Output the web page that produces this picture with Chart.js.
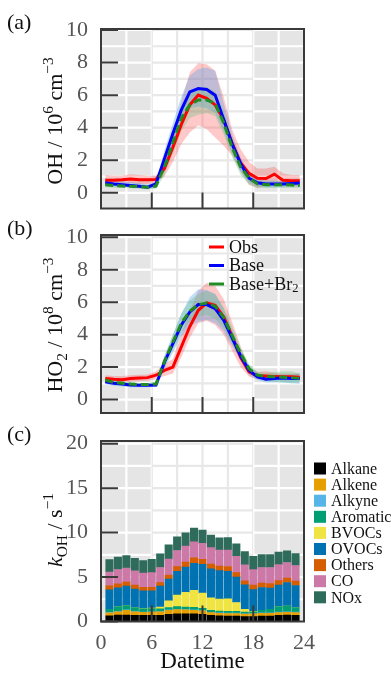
<!DOCTYPE html>
<html>
<head>
<meta charset="utf-8">
<script src="https://cdn.jsdelivr.net/npm/chart.js@4.4.1/dist/chart.umd.min.js"></script>
<style>
  html, body { margin: 0; padding: 0; background: #fff; }
  #wrap { position: relative; width: 391px; height: 673px; overflow: hidden; }
  #wrap canvas { position: absolute; left: 0; top: 0; }
</style>
</head>
<body>
<div id="wrap">
  <canvas id="chart-oh" width="391" height="673"></canvas>
  <canvas id="chart-ho2" width="391" height="673"></canvas>
  <canvas id="chart-koh" width="391" height="673"></canvas>
</div>
<script>
// Diurnal OH, HO2 and OH reactivity figure

const SERIF = "'Liberation Serif', 'Times New Roman', serif";

// hourly means, centred on the half hour
const hours = [0.5, 1.5, 2.5, 3.5, 4.5, 5.5, 6.5, 7.5, 8.5, 9.5, 10.5, 11.5,
               12.5, 13.5, 14.5, 15.5, 16.5, 17.5, 18.5, 19.5, 20.5, 21.5, 22.5, 23.5];

// (a) OH / 10^6 cm-3
const ohObs      = [0.78, 0.78, 0.80, 0.85, 0.80, 0.80, 0.82, 1.50, 2.80, 4.20, 5.40, 6.00, 5.80, 5.40, 4.50, 3.05, 1.85, 1.20, 0.90, 0.88, 1.15, 0.78, 0.75, 0.75];
const ohObsLow   = [0.50, 0.55, 0.55, 0.60, 0.55, 0.55, 0.60, 1.00, 1.90, 3.00, 3.70, 4.15, 3.90, 3.40, 2.90, 2.30, 1.30, 0.50, 0.30, 0.45, 0.55, 0.45, 0.40, 0.40];
const ohObsHigh  = [1.10, 1.05, 1.05, 1.15, 1.10, 1.05, 1.05, 1.90, 3.60, 5.60, 7.40, 7.95, 7.90, 7.50, 5.90, 3.90, 2.70, 1.90, 1.50, 1.50, 1.60, 1.20, 1.10, 1.10];
const ohBase     = [0.62, 0.55, 0.50, 0.45, 0.40, 0.35, 0.55, 2.10, 3.65, 5.10, 6.20, 6.40, 6.35, 6.00, 4.50, 3.00, 1.80, 0.90, 0.62, 0.55, 0.55, 0.55, 0.58, 0.60];
const ohBaseLow  = [0.45, 0.40, 0.38, 0.35, 0.30, 0.25, 0.30, 1.60, 3.00, 4.30, 5.20, 5.30, 5.20, 4.90, 3.80, 2.40, 1.30, 0.60, 0.40, 0.35, 0.35, 0.35, 0.40, 0.40];
const ohBaseHigh = [0.80, 0.75, 0.70, 0.65, 0.60, 0.50, 0.70, 2.60, 4.30, 5.90, 7.20, 7.60, 7.70, 7.50, 5.50, 3.60, 2.20, 1.20, 0.80, 0.75, 0.75, 0.75, 0.80, 0.85];
const ohBr2      = [0.50, 0.45, 0.42, 0.40, 0.38, 0.35, 0.42, 1.60, 3.10, 4.60, 5.40, 5.70, 5.70, 5.50, 4.30, 2.80, 1.60, 0.90, 0.55, 0.50, 0.50, 0.50, 0.48, 0.45];
const ohBr2Low   = [0.35, 0.30, 0.30, 0.28, 0.25, 0.22, 0.25, 1.10, 2.40, 3.80, 4.60, 4.80, 4.90, 4.70, 3.60, 2.20, 1.10, 0.50, 0.30, 0.30, 0.30, 0.30, 0.30, 0.30];
const ohBr2High  = [0.65, 0.60, 0.55, 0.55, 0.50, 0.45, 0.55, 2.00, 3.70, 5.20, 6.10, 6.50, 6.50, 6.20, 5.00, 3.40, 2.00, 1.10, 0.70, 0.70, 0.70, 0.70, 0.65, 0.65];

// (b) HO2 / 10^8 cm-3
const ho2Obs      = [1.30, 1.25, 1.22, 1.30, 1.32, 1.35, 1.50, 1.80, 2.00, 3.25, 4.50, 5.50, 5.95, 5.80, 5.10, 3.90, 2.60, 1.70, 1.45, 1.45, 1.42, 1.40, 1.40, 1.38];
const ho2ObsLow   = [1.15, 1.10, 1.05, 1.10, 1.12, 1.15, 1.25, 1.45, 1.60, 2.60, 3.80, 4.70, 4.85, 4.60, 4.00, 3.00, 2.00, 1.40, 1.25, 1.30, 1.20, 1.20, 1.20, 1.20];
const ho2ObsHigh  = [1.50, 1.45, 1.45, 1.50, 1.52, 1.55, 1.75, 2.20, 2.50, 4.00, 5.50, 6.70, 7.20, 7.00, 6.20, 4.80, 3.30, 2.00, 1.70, 1.75, 1.65, 1.60, 1.60, 1.60];
const ho2Base     = [1.10, 1.00, 0.95, 0.90, 0.88, 0.88, 0.90, 2.30, 3.45, 4.60, 5.40, 5.85, 5.85, 5.60, 4.90, 3.80, 2.70, 1.80, 1.40, 1.25, 1.30, 1.32, 1.30, 1.30];
const ho2BaseLow  = [0.95, 0.85, 0.80, 0.75, 0.75, 0.75, 0.78, 1.90, 2.90, 3.90, 4.50, 4.80, 4.90, 4.70, 4.20, 3.30, 2.40, 1.50, 1.20, 1.05, 1.05, 1.05, 1.00, 0.95];
const ho2BaseHigh = [1.25, 1.15, 1.10, 1.05, 1.00, 1.00, 1.05, 2.70, 4.00, 5.30, 6.30, 6.80, 6.75, 6.50, 5.60, 4.30, 3.00, 2.10, 1.60, 1.45, 1.55, 1.55, 1.55, 1.60];
const ho2Br2      = [1.20, 1.05, 1.00, 0.95, 0.92, 0.92, 0.95, 2.35, 3.55, 4.70, 5.45, 5.85, 5.95, 5.75, 5.05, 3.95, 2.85, 1.90, 1.50, 1.42, 1.40, 1.38, 1.35, 1.30];
const ho2Br2Low   = [1.05, 0.92, 0.88, 0.85, 0.82, 0.82, 0.85, 2.00, 3.10, 4.10, 4.80, 5.10, 5.20, 5.00, 4.40, 3.40, 2.50, 1.60, 1.30, 1.15, 1.10, 1.05, 1.00, 1.05];
const ho2Br2High  = [1.35, 1.20, 1.12, 1.08, 1.02, 1.02, 1.10, 2.65, 4.00, 5.30, 6.10, 6.50, 6.70, 6.50, 5.70, 4.50, 3.20, 2.20, 1.70, 1.65, 1.70, 1.75, 1.75, 1.60];

// (c) kOH / s-1, stacked by species group
const kohHours = [1, 2, 3, 4, 5, 6, 7, 8, 9, 10, 11, 12, 13, 14, 15, 16, 17, 18, 19, 20, 21, 22, 23];
const alkane   = [0.65, 0.72, 0.72, 0.70, 0.68, 0.68, 0.70, 0.82, 0.85, 0.85, 0.85, 0.80, 0.70, 0.65, 0.62, 0.60, 0.55, 0.55, 0.60, 0.62, 0.68, 0.72, 0.70];
const alkene   = [0.32, 0.38, 0.55, 0.40, 0.35, 0.38, 0.38, 0.45, 0.48, 0.45, 0.42, 0.40, 0.30, 0.28, 0.28, 0.30, 0.28, 0.30, 0.32, 0.30, 0.32, 0.32, 0.30];
const alkyne   = [0.05, 0.05, 0.05, 0.05, 0.04, 0.04, 0.04, 0.05, 0.05, 0.05, 0.05, 0.04, 0.04, 0.04, 0.04, 0.04, 0.04, 0.04, 0.05, 0.05, 0.05, 0.05, 0.05];
const aromatic = [0.35, 0.50, 0.45, 0.40, 0.35, 0.35, 0.30, 0.25, 0.30, 0.28, 0.28, 0.25, 0.22, 0.20, 0.20, 0.20, 0.20, 0.20, 0.30, 0.40, 0.60, 0.65, 0.50];
const bvocs    = [0.00, 0.00, 0.00, 0.00, 0.02, 0.05, 0.20, 0.75, 1.30, 1.65, 1.90, 1.70, 1.40, 1.35, 1.40, 1.00, 0.30, 0.05, 0.00, 0.00, 0.00, 0.00, 0.00];
const ovocs    = [2.20, 2.15, 2.20, 2.10, 2.00, 1.95, 2.35, 2.45, 2.65, 2.85, 3.05, 3.25, 3.25, 3.20, 3.10, 2.85, 2.75, 2.45, 2.55, 2.40, 2.45, 2.65, 2.50];
const others   = [0.45, 0.45, 0.45, 0.45, 0.40, 0.40, 0.40, 0.45, 0.55, 0.55, 0.60, 0.55, 0.55, 0.50, 0.55, 0.50, 0.45, 0.50, 0.50, 0.50, 0.50, 0.50, 0.50];
const co       = [1.55, 1.60, 1.60, 1.60, 1.60, 1.65, 1.70, 1.80, 1.80, 1.80, 1.80, 1.80, 1.85, 1.80, 1.85, 1.85, 1.80, 1.75, 1.75, 1.80, 1.80, 1.75, 1.75];
const nox      = [1.40, 1.40, 1.40, 1.40, 1.40, 1.50, 1.55, 1.60, 1.55, 1.50, 1.55, 1.50, 1.40, 1.40, 1.40, 1.40, 1.50, 1.50, 1.45, 1.45, 1.40, 1.30, 1.35];

const speciesNames  = ['Alkane', 'Alkene', 'Alkyne', 'Aromatic', 'BVOCs', 'OVOCs', 'Others', 'CO', 'NOx'];
const speciesValues = [alkane, alkene, alkyne, aromatic, bvocs, ovocs, others, co, nox];
const speciesColors = ['#000000', '#e69f00', '#56b4e9', '#009e73', '#f0e442', '#0072b2', '#d55e00', '#cc79a7', '#2f6b5a'];

// tick labels
const hourTicks = [0, 6, 12, 18, 24];
const ohTicks   = [0, 2, 4, 6, 8, 10];
const ho2Ticks  = [0, 2, 4, 6, 8, 10];
const kohTicks  = [0, 5, 10, 15, 20];

// Draw text made of plain / italic / sub / sup runs
function richWidth(ctx, parts, size) {
    let w = 0;
    parts.forEach(([t, kind]) => {
        const small = kind === 'sup' || kind === 'sub';
        ctx.font = (kind === 'i' ? 'italic ' : '') + (small ? size * 0.7 : size) + 'px ' + SERIF;
        w += ctx.measureText(t).width;
    });
    return w;
}

function drawRich(ctx, parts, x, y, size) {
    let cx = x;
    parts.forEach(([t, kind]) => {
        const small = kind === 'sup' || kind === 'sub';
        ctx.font = (kind === 'i' ? 'italic ' : '') + (small ? size * 0.7 : size) + 'px ' + SERIF;
        const dy = kind === 'sup' ? -size * 0.42 : kind === 'sub' ? size * 0.22 : 0;
        ctx.fillText(t, cx, y + dy);
        cx += ctx.measureText(t).width;
    });
}

// Background shading, grid, inner ticks, frame, panel label and y title
const panelPlugin = {
    id: 'panel',
    beforeDraw(chart, args, opts) {
        const { ctx, chartArea: a, scales: { x, y } } = chart;
        const x6 = x.getPixelForValue(6);
        const x18 = x.getPixelForValue(18);
        ctx.save();
        ctx.fillStyle = '#ffffff';
        ctx.fillRect(a.left, a.top, a.width, a.height);
        ctx.fillStyle = '#e5e5e5';
        ctx.fillRect(a.left, a.top, x6 - a.left, a.height);
        ctx.fillRect(x18, a.top, a.right - x18, a.height);

        const zones = [[a.left, x6, '#ffffff'], [x6, x18, '#e8e8e8'], [x18, a.right, '#ffffff']];
        ctx.lineWidth = 2.2;
        zones.forEach(([l, r, col]) => {
            ctx.save();
            ctx.beginPath();
            ctx.rect(l, a.top, r - l, a.height);
            ctx.clip();
            ctx.strokeStyle = col;
            ctx.beginPath();
            for (let h = 0; h <= 24; h += 3) {
                const px = x.getPixelForValue(h);
                ctx.moveTo(px, a.top);
                ctx.lineTo(px, a.bottom);
            }
            for (let v = 0; v <= y.max; v += opts.gridStep) {
                const py = y.getPixelForValue(v);
                ctx.moveTo(a.left, py);
                ctx.lineTo(a.right, py);
            }
            ctx.stroke();
            ctx.restore();
        });
        ctx.restore();
    },
    afterDatasetsDraw(chart, args, opts) {
        const { ctx, chartArea: a, scales: { x, y } } = chart;
        ctx.save();
        ctx.strokeStyle = '#3a3a3a';
        ctx.lineWidth = 2;
        ctx.beginPath();
        opts.yTicks.forEach(v => {
            const py = y.getPixelForValue(v);
            ctx.moveTo(a.left, py);
            ctx.lineTo(a.left + 17, py);
        });
        hourTicks.forEach(h => {
            if (h <= 0 || h >= 24) return;
            const px = x.getPixelForValue(h);
            ctx.moveTo(px, a.bottom);
            ctx.lineTo(px, a.bottom - 16);
        });
        ctx.stroke();
        ctx.strokeRect(a.left, a.top, a.width, a.height);
        ctx.restore();
    },
    afterDraw(chart, args, opts) {
        const { ctx, chartArea: a } = chart;
        ctx.save();
        ctx.fillStyle = '#111';
        ctx.textBaseline = 'middle';
        ctx.textAlign = 'left';
        ctx.font = '22px ' + SERIF;
        ctx.fillText(opts.label, 7, a.top - 6);

        // rotated y title
        ctx.textBaseline = 'alphabetic';
        const w = richWidth(ctx, opts.title, 22);
        ctx.translate(62, opts.titleY);
        ctx.rotate(-Math.PI / 2);
        drawRich(ctx, opts.title, -w / 2, 0, 22);
        ctx.restore();
    }
};

// Line legend drawn inside panel (b)
const lineLegendPlugin = {
    id: 'lineLegend',
    afterDraw(chart, args, opts) {
        if (!opts.show) return;
        const { ctx } = chart;
        ctx.save();
        ctx.textBaseline = 'middle';
        ctx.fillStyle = '#111';
        const items = chart.data.datasets.filter(d => d.legendParts);
        items.forEach((d, i) => {
            const yy = opts.top + i * opts.rowHeight;
            ctx.strokeStyle = d.borderColor;
            ctx.lineWidth = 3;
            ctx.beginPath();
            ctx.moveTo(opts.left, yy);
            ctx.lineTo(opts.left + 15, yy);
            ctx.stroke();
            drawRich(ctx, d.legendParts, opts.left + 20, yy + 1, 18);
        });
        ctx.restore();
    }
};

// Box legend to the right of panel (c)
const boxLegendPlugin = {
    id: 'boxLegend',
    afterDraw(chart, args, opts) {
        if (!opts.show) return;
        const { ctx } = chart;
        ctx.save();
        ctx.textBaseline = 'middle';
        ctx.font = '16px ' + SERIF;
        chart.data.datasets.forEach((d, i) => {
            const yy = opts.top + i * opts.rowHeight;
            ctx.fillStyle = d.backgroundColor;
            ctx.fillRect(opts.left, yy - 6, 12, 12);
            ctx.fillStyle = '#111';
            ctx.fillText(d.label, opts.left + 17, yy + 1);
        });
        ctx.restore();
    }
};

Chart.register(panelPlugin, lineLegendPlugin, boxLegendPlugin);

function toXY(xs, ys) {
    return xs.map((h, i) => ({ x: h, y: ys[i] }));
}

function profileDatasets(obs, obsLow, obsHigh, base, baseLow, baseHigh, br2, br2Low, br2High) {
    const band = (low, high, color, order) => [
        { data: toXY(hours, high), borderWidth: 0, pointRadius: 0, fill: false, order },
        { data: toXY(hours, low), borderWidth: 0, pointRadius: 0, fill: '-1', backgroundColor: color, order }
    ];
    return [
        { label: 'Obs', legendParts: [['Obs']], data: toXY(hours, obs), borderColor: '#ff0000', borderWidth: 3, pointRadius: 0, fill: false, order: 3 },
        { label: 'Base', legendParts: [['Base']], data: toXY(hours, base), borderColor: '#0000ff', borderWidth: 3, pointRadius: 0, fill: false, order: 2 },
        { label: 'Base+Br2', legendParts: [['Base+Br'], ['2', 'sub']], data: toXY(hours, br2), borderColor: '#228b22', borderWidth: 3, borderDash: [8, 4], pointRadius: 0, fill: false, order: 1 },
        ...band(obsLow, obsHigh, 'rgba(255, 60, 60, 0.28)', 6),
        ...band(baseLow, baseHigh, 'rgba(80, 160, 235, 0.35)', 5),
        ...band(br2Low, br2High, 'rgba(90, 190, 120, 0.30)', 4)
    ];
}

const tickFont = { family: SERIF, size: 22 };
const tickColor = '#555555';

function profileChart(id, datasets, top, bottom, yMin, yMax, ticks, label, title, titleY, showLegend) {
    return new Chart(document.getElementById(id), {
        type: 'line',
        data: { datasets },
        options: {
            responsive: false,
            animation: false,
            events: [],
            layout: { padding: { left: 0, top, right: 87, bottom: 673 - bottom } },
            elements: { line: { tension: 0 } },
            scales: {
                x: { type: 'linear', min: 0, max: 24, display: false },
                y: {
                    min: yMin, max: yMax,
                    afterBuildTicks: s => { s.ticks = ticks.map(v => ({ value: v })); },
                    afterFit: s => { s.width = 101; },
                    grid: { display: false },
                    border: { display: false },
                    ticks: { font: tickFont, color: tickColor, padding: 5 }
                }
            },
            plugins: {
                legend: { display: false },
                tooltip: { enabled: false },
                panel: { label, title, titleY, gridStep: 1, yTicks: ticks },
                lineLegend: { show: showLegend, left: 209, top: 247, rowHeight: 18.5 },
                boxLegend: { show: false }
            }
        }
    });
}

// (a) OH
profileChart('chart-oh',
    profileDatasets(ohObs, ohObsLow, ohObsHigh, ohBase, ohBaseLow, ohBaseHigh, ohBr2, ohBr2Low, ohBr2High),
    29, 208.5, -0.96, 10.06, ohTicks, '(a)',
    [['OH / 10'], ['6', 'sup'], [' cm'], ['\u22123', 'sup']], 121, false);

// (b) HO2
profileChart('chart-ho2',
    profileDatasets(ho2Obs, ho2ObsLow, ho2ObsHigh, ho2Base, ho2BaseLow, ho2BaseHigh, ho2Br2, ho2Br2Low, ho2Br2High),
    235, 413, -0.83, 10.14, ho2Ticks, '(b)',
    [['HO'], ['2', 'sub'], [' / 10'], ['8', 'sup'], [' cm'], ['\u22123', 'sup']], 325, true);

// (c) kOH stacked bars
new Chart(document.getElementById('chart-koh'), {
    type: 'bar',
    data: {
        datasets: speciesNames.map((name, i) => ({
            label: name,
            data: toXY(kohHours, speciesValues[i]),
            backgroundColor: speciesColors[i],
            borderWidth: 0,
            barThickness: 7.4
        }))
    },
    options: {
        responsive: false,
        animation: false,
        events: [],
        layout: { padding: { left: 0, top: 441, right: 87, bottom: 0 } },
        scales: {
            x: {
                type: 'linear', min: 0, max: 24, stacked: true, offset: false,
                afterBuildTicks: s => { s.ticks = hourTicks.map(v => ({ value: v })); },
                afterFit: s => { s.height = 673 - 621.5; },
                grid: { display: false, offset: false },
                border: { display: false },
                ticks: { font: { family: SERIF, size: 22 }, color: tickColor, padding: 1, maxRotation: 0, autoSkip: false },
                title: { display: true, text: 'Datetime', font: { family: SERIF, size: 23 }, color: '#111', padding: { top: 0, bottom: -3 } }
            },
            y: {
                stacked: true, min: 0, max: 20.3,
                afterBuildTicks: s => { s.ticks = kohTicks.map(v => ({ value: v })); },
                afterFit: s => { s.width = 101; },
                grid: { display: false },
                border: { display: false },
                ticks: { font: tickFont, color: tickColor, padding: 5 }
            }
        },
        plugins: {
            legend: { display: false },
            tooltip: { enabled: false },
            panel: {
                label: '(c)', titleY: 530, gridStep: 2.5, yTicks: kohTicks,
                title: [['k', 'i'], ['OH', 'sub'], [' / s'], ['\u22121', 'sup']]
            },
            lineLegend: { show: false },
            boxLegend: { show: true, left: 314, top: 468.5, rowHeight: 16.1 }
        }
    }
});
</script>
</body>
</html>
